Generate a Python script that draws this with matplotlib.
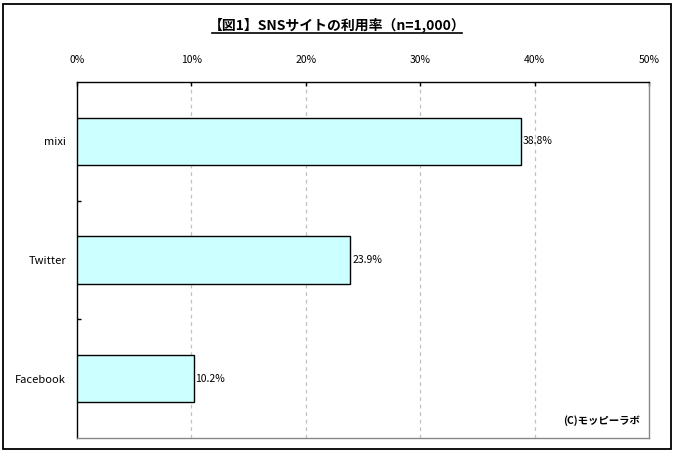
import matplotlib
matplotlib.use("Agg")
import matplotlib.pyplot as plt
from matplotlib.patches import Rectangle

plt.rcParams['font.family'] = ['Noto Sans CJK JP', 'DejaVu Sans']

categories = ["mixi", "Twitter", "Facebook"]
values = [38.8, 23.9, 10.2]
xticks = [0, 10, 20, 30, 40, 50]
xtick_labels = ["0%", "10%", "20%", "30%", "40%", "50%"]
title = "【図1】SNSサイトの利用率（n=1,000）"
credit = "(C)モッピーラボ"

W, H = 675, 453
fig = plt.figure(figsize=(W / 100, H / 100), dpi=100)

# outer border
fig.patches.append(Rectangle((3 / W, 4 / H), 668 / W, 445 / H, transform=fig.transFigure,
                             fill=False, edgecolor="black", linewidth=1.3))

ax = fig.add_axes([77 / W, 15 / H, 572 / W, 356 / H])
ypos = list(range(len(categories)))
ax.barh(ypos, values, height=0.4, color="#CCFFFF", edgecolor="black", linewidth=1.0, zorder=3)
ax.set_ylim(len(categories) - 0.5, -0.5)
ax.set_xlim(0, 50)

ax.set_xticks(xticks)
ax.set_xticklabels(xtick_labels, fontsize=7.5)
ax.xaxis.tick_top()
ax.tick_params(axis='x', direction='in', length=3, width=1, pad=12, top=True, bottom=False, color="black")
ax.set_yticks([y + 0.5 for y in ypos[:-1]], minor=True)
ax.set_yticks(ypos)
ax.set_yticklabels(categories, fontsize=8)
ax.tick_params(axis='y', which='major', length=0, pad=8)
ax.tick_params(axis='y', which='minor', direction='in', length=3, width=1)

for x in xticks[1:-1]:
    ax.axvline(x, color="#c0c0c0", linestyle=(0, (3, 3)), linewidth=0.9, zorder=1)

ax.spines['left'].set_color("black")
ax.spines['top'].set_color("black")
ax.spines['right'].set_color("#888888")
ax.spines['bottom'].set_color("#888888")
for s in ax.spines.values():
    s.set_linewidth(1.0)

for y, v in zip(ypos, values):
    ax.text(v + 0.15, y, f"{v:.1f}%", va="center", ha="left", fontsize=7.5, zorder=4)

fig.text(0.5, (H - 25) / H, title, ha="center", va="center", fontsize=10, fontweight="bold")
# underline
fig.add_artist(plt.Line2D([212 / W, 462 / W], [(H - 33) / H] * 2, color="black", linewidth=1.2,
                          transform=fig.transFigure))
ax.text(0.985, 0.035, credit, transform=ax.transAxes, ha="right", va="bottom", fontsize=7.5,
        fontweight="bold")

fig.savefig("out.png", dpi=100)
